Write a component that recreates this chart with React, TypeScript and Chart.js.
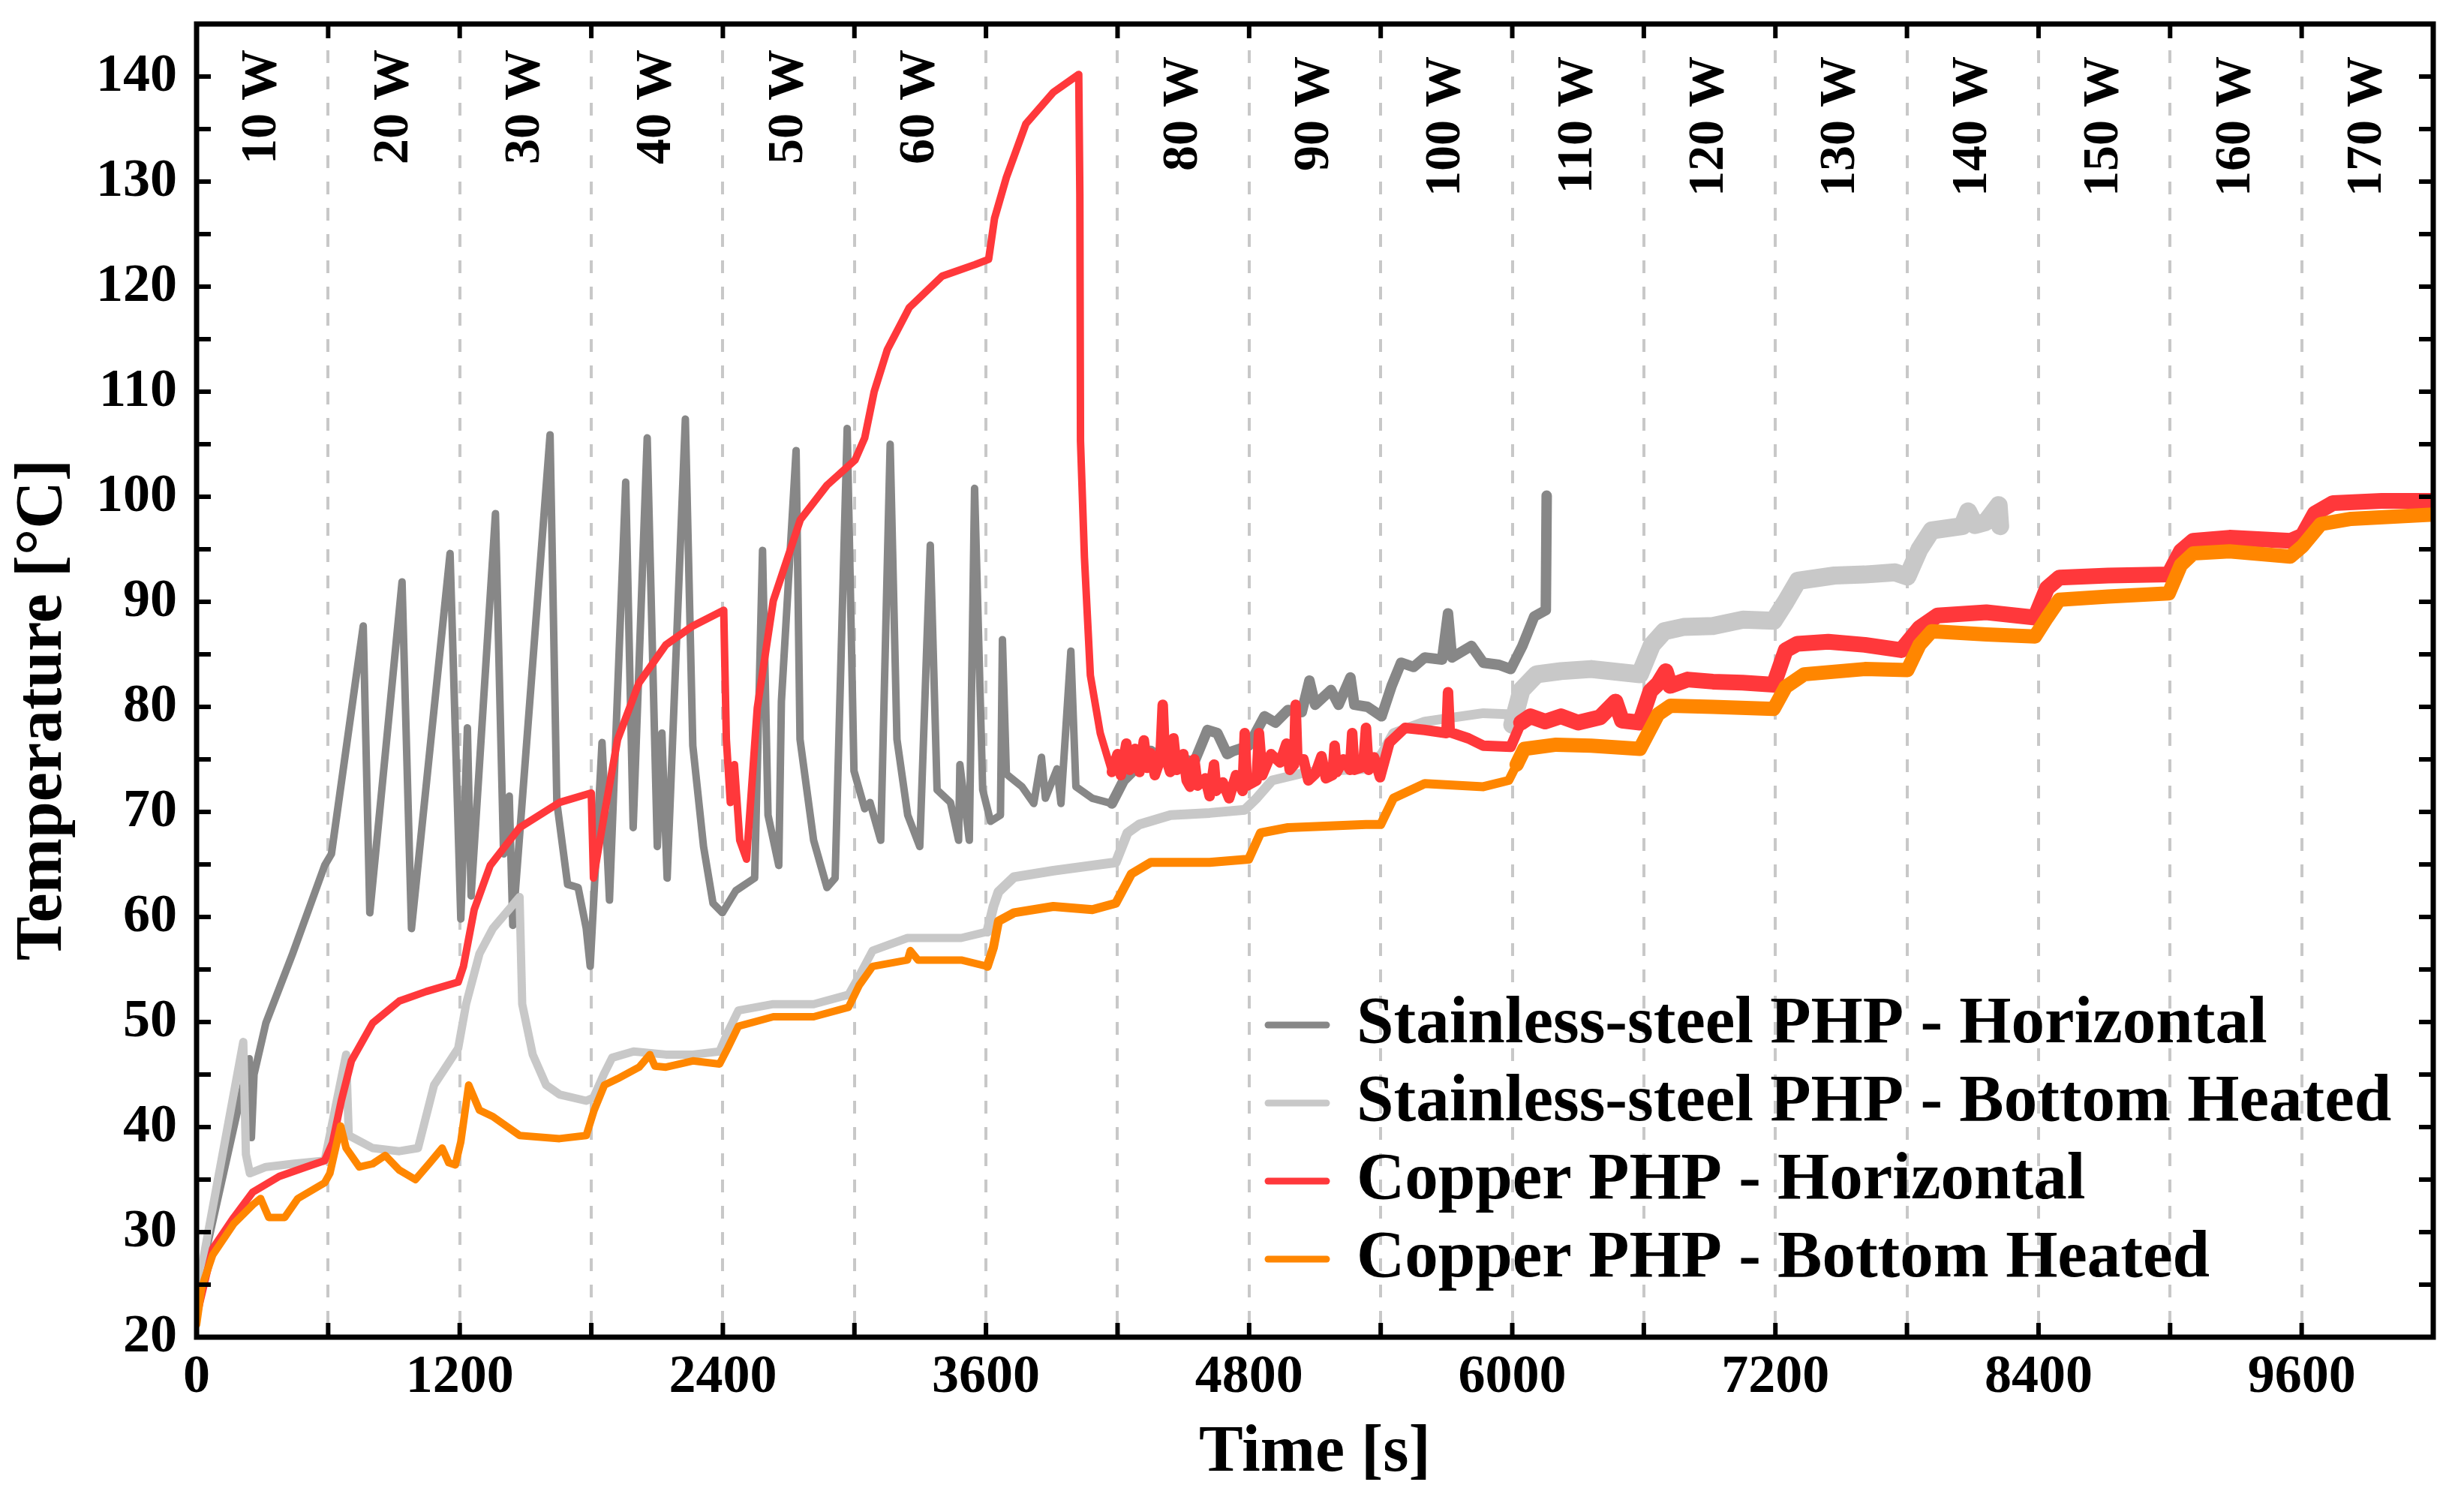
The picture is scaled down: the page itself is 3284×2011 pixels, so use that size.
import React, { useEffect, useRef } from "react";
import { Chart, registerables } from "chart.js";
import type { Plugin, ChartOptions } from "chart.js";

Chart.register(...registerables);

const FONT = "'Liberation Serif', 'Times New Roman', serif";

// [time s, temperature °C]
const ssHorizontal: [number, number][] = [
  [0, 24], [20, 26], [240, 46.5], [250, 39], [262, 45], [316, 49.9], [438, 56.5], [584, 64.9], [615, 66],
  [760, 87.7], [790, 60.4], [937, 91.9], [980, 58.9], [1156, 94.6], [1205, 59.8], [1235, 78], [1252, 62],
  [1363, 98.4], [1400, 66], [1426, 71.5], [1442, 59.2], [1612, 105.9], [1643, 70.9], [1692, 63.1], [1740, 62.8],
  [1777, 58.9], [1795, 55.3], [1849, 76.6], [1883, 61.6], [1957, 101.4], [1991, 68.5], [2055, 105.6], [2101, 66.7],
  [2122, 77.5], [2146, 63.7], [2229, 107.4], [2263, 76.3], [2312, 66.7], [2355, 61.3], [2398, 60.4], [2459, 62.5],
  [2545, 63.7], [2581, 94.9], [2606, 69.7], [2655, 64.9], [2667, 80.5], [2734, 104.4], [2752, 76.9], [2814, 67.3],
  [2875, 62.8], [2912, 63.7], [2967, 106.5], [2998, 73.9], [3047, 70.3], [3071, 70.9], [3120, 67.3], [3163, 105],
  [3194, 76.9], [3243, 69.7], [3298, 66.7], [3346, 95.4], [3377, 72.1], [3438, 70.9], [3475, 67.3], [3481, 74.5],
  [3524, 67.3], [3548, 100.8], [3585, 72.1], [3621, 69.1], [3666, 69.7], [3675, 86.4], [3693, 73.6], [3764, 72.4],
  [3818, 70.8], [3853, 75.2], [3871, 71.3], [3924, 74.1], [3942, 70.8], [3987, 85.3], [4010, 72.4], [4085, 71.3],
  [4174, 70.8], [4228, 73], [4300, 74.5], [4352, 75.8], [4420, 74.8], [4477, 75.2], [4549, 74.7], [4610, 77.8],
  [4655, 77.5], [4700, 75.5], [4727, 75.8], [4798, 76.3], [4870, 79.1], [4920, 78.5], [4977, 79.7], [5040, 79.5],
  [5075, 82.5], [5101, 80.2], [5173, 81.6], [5208, 80.2], [5262, 82.8], [5280, 80.2], [5340, 80], [5404, 79.1],
  [5450, 82], [5493, 84.2], [5550, 83.8], [5601, 84.7], [5680, 84.5], [5707, 88.9], [5725, 84.7], [5814, 85.8],
  [5868, 84.2], [5940, 84], [5993, 83.6], [6046, 85.8], [6100, 88.6], [6153, 89.2], [6157, 100.1],
];

const ssBottom: [number, number][] = [
  [0, 24], [213, 48.1], [225, 37.4], [243, 35.6], [316, 36.2], [438, 36.5], [584, 36.8], [682, 46.9], [694, 39.2],
  [803, 38], [925, 37.7], [1010, 38], [1083, 44], [1193, 47.5], [1229, 51.7], [1290, 56.5], [1351, 58.9],
  [1473, 61.9], [1485, 51.7], [1533, 46.9], [1594, 44], [1655, 43.1], [1777, 42.5], [1810, 42.8], [1859, 45.1],
  [1895, 46.6], [1993, 47.2], [2140, 46.9], [2263, 46.9], [2385, 47.2], [2422, 49], [2471, 51.1], [2630, 51.7],
  [2814, 51.7], [2973, 52.6], [3022, 54.4], [3083, 56.8], [3242, 58], [3487, 58], [3606, 58.6], [3634, 61],
  [3657, 62.4], [3728, 63.8], [3907, 64.4], [4085, 64.9], [4192, 65.2], [4245, 68], [4299, 68.8], [4442, 69.7],
  [4620, 69.9], [4780, 70.2], [4834, 71.3], [4905, 73], [5066, 73.8], [5333, 74.1], [5404, 75.5], [5458, 77.5],
  [5601, 78.6], [5868, 79.4], [5975, 79.3], [6000, 78.3], [6042, 81.6], [6111, 83.1], [6222, 83.4], [6360, 83.6],
  [6582, 83.1], [6637, 85.9], [6693, 87.2], [6780, 87.6], [6915, 87.7], [7053, 88.3], [7192, 88.2], [7247, 90],
  [7303, 92], [7469, 92.5], [7608, 92.6], [7746, 92.8], [7802, 92.4], [7857, 95], [7913, 96.8], [8052, 97.2],
  [8079, 98.6], [8110, 97.3], [8160, 97.6], [8218, 99.2], [8225, 97.2],
];

const cuHorizontal: [number, number][] = [
  [0, 22], [73, 28.4], [170, 31.4], [256, 33.8], [377, 35.3], [499, 36.2], [584, 36.8], [620, 38.5], [660, 42.5],
  [706, 46.3], [803, 49.9], [925, 52], [1047, 52.9], [1193, 53.8], [1217, 55.3], [1266, 60.7], [1339, 64.9],
  [1473, 68.5], [1655, 70.9], [1800, 71.8], [1810, 63.7], [1859, 69.7], [1920, 76.9], [2018, 82.3], [2140, 85.9],
  [2263, 87.7], [2404, 89.2], [2416, 76.9], [2434, 70.9], [2453, 74.5], [2477, 67.3], [2508, 65.5], [2557, 79.9],
  [2630, 90.1], [2753, 97.8], [2875, 101.1], [3003, 103.5], [3047, 105.6], [3090, 110], [3150, 114], [3250, 118],
  [3400, 121], [3550, 122.1], [3612, 122.6], [3639, 126.5], [3693, 130.4], [3782, 135.5], [3907, 138.5],
  [4023, 140.2], [4028, 128.8], [4031, 105.3], [4049, 94.2], [4076, 83], [4121, 77.5], [4174, 73.8], [4200, 75.5],
  [4215, 73.5], [4240, 76.5], [4255, 74], [4280, 76], [4300, 73.8], [4320, 76.8], [4335, 74.2], [4350, 75.6],
  [4370, 73.5], [4395, 75], [4406, 80.2], [4415, 75.5], [4440, 73.8], [4455, 77], [4470, 74], [4500, 75.5],
  [4515, 73], [4531, 72.4], [4550, 75], [4565, 72.5], [4600, 73.2], [4620, 71.5], [4640, 74.5], [4650, 72],
  [4680, 72.8], [4709, 71.3], [4740, 73.5], [4770, 72], [4780, 77.5], [4790, 72.5], [4834, 73], [4845, 77.5],
  [4860, 73.5], [4900, 75.5], [4941, 74.7], [4970, 76.5], [4985, 74], [5005, 74.5], [5012, 80.2], [5020, 75],
  [5048, 75], [5070, 73], [5101, 73.6], [5130, 75.3], [5150, 73.2], [5180, 73.5], [5190, 76.3], [5200, 73.8],
  [5230, 75], [5260, 74], [5270, 77.5], [5280, 74], [5320, 74.3], [5333, 78], [5345, 74], [5370, 75.2],
  [5397, 73.3], [5440, 76.6], [5511, 78], [5600, 77.8], [5700, 77.5], [5707, 81.4], [5715, 77.6], [5800, 77],
  [5868, 76.3], [5993, 76.2], [6040, 78.5], [6083, 79.1], [6150, 78.6], [6222, 79.1], [6300, 78.5], [6400, 79],
  [6471, 80.5], [6500, 78.7], [6582, 78.5], [6630, 81.5], [6665, 82.2], [6700, 83.4], [6720, 82], [6800, 82.6],
  [6915, 82.4], [7050, 82.3], [7192, 82.1], [7247, 85.4], [7300, 86], [7441, 86.2], [7608, 85.9], [7774, 85.4],
  [7857, 87.5], [7940, 88.7], [8162, 89], [8384, 88.5], [8439, 91.3], [8495, 92.3], [8717, 92.5], [8994, 92.6],
  [9049, 94.8], [9105, 95.8], [9271, 96.1], [9548, 95.8], [9604, 96.3], [9660, 98.4], [9743, 99.4], [9965, 99.6],
  [10200, 99.6],
];

const cuBottom: [number, number][] = [
  [0, 21.2], [24, 24.8], [73, 27.8], [170, 30.8], [256, 32.6], [292, 33.2], [329, 31.4], [402, 31.4], [462, 33.2],
  [584, 34.7], [608, 35.6], [657, 40.1], [682, 38], [742, 36.2], [803, 36.5], [860, 37.3], [925, 35.9], [998, 35],
  [1060, 36.5], [1120, 38], [1150, 36.6], [1180, 36.4], [1205, 38.6], [1241, 44], [1290, 41.6], [1351, 41],
  [1473, 39.2], [1655, 38.9], [1777, 39.2], [1813, 41.6], [1860, 44], [1920, 44.6], [2018, 45.7], [2067, 46.9],
  [2090, 45.8], [2140, 45.7], [2263, 46.3], [2385, 46], [2422, 47.5], [2471, 49.6], [2630, 50.5], [2814, 50.5],
  [2973, 51.4], [3022, 53.5], [3083, 55.3], [3242, 55.9], [3255, 56.8], [3290, 55.9], [3487, 55.9], [3606, 55.3],
  [3634, 57.1], [3657, 59.6], [3728, 60.4], [3907, 61], [4085, 60.7], [4192, 61.3], [4263, 64.1], [4352, 65.2],
  [4620, 65.2], [4798, 65.5], [4852, 68], [4977, 68.5], [5333, 68.8], [5400, 68.8], [5458, 71.3], [5601, 72.7],
  [5868, 72.4], [5984, 73], [6020, 74.5], [6055, 76], [6200, 76.4], [6360, 76.3], [6582, 76], [6665, 79.3],
  [6721, 80.1], [6915, 80], [7192, 79.8], [7247, 81.9], [7331, 83.1], [7608, 83.6], [7802, 83.5], [7857, 85.9],
  [7913, 87.2], [8162, 86.9], [8384, 86.7], [8439, 88.5], [8495, 90.2], [8717, 90.5], [8994, 90.8], [9049, 93.5],
  [9105, 94.6], [9271, 94.8], [9548, 94.3], [9604, 95.3], [9687, 97.4], [9826, 97.9], [10200, 98.3],
];

const seriesNames = [
  "Stainless-steel PHP - Horizontal",
  "Stainless-steel PHP - Bottom Heated",
  "Copper PHP - Horizontal",
  "Copper PHP - Bottom Heated",
];
const seriesColors = ["#878787", "#c8c8c8", "#ff383b", "#ff8600"];
const seriesData = [ssHorizontal, ssBottom, cuHorizontal, cuBottom];

// heater power steps and the middle of each 600 s step
const powerSteps = [10, 20, 30, 40, 50, 60, 80, 90, 100, 110, 120, 130, 140, 150, 160, 170];
const powerMidTimes = [300, 900, 1500, 2100, 2700, 3300, 4500, 5100, 5700, 6300, 6900, 7500, 8100, 8700, 9300, 9900];

// line gets thicker where the signal is noisy: [from time, width]
const bandWidths: [number, number][][] = [
  [[0, 10], [4100, 14]],
  [[0, 11], [3600, 13], [6000, 24]],
  [[0, 10], [4150, 14], [6000, 21]],
  [[0, 10], [3600, 12], [6000, 19]],
];

const widthAt = (s: number, t: number) => {
  let w = 10;
  for (const [from, bw] of bandWidths[s]) if (t >= from) w = bw;
  return w;
};

const framePlugin: Plugin<"line"> = {
  id: "frameAndLabels",
  afterDraw(chart) {
    const { ctx, chartArea: a } = chart;
    const xs = chart.scales.x;
    const ys = chart.scales.y;
    ctx.save();

    // inward ticks on all four sides
    ctx.strokeStyle = "#000";
    ctx.lineWidth = 6;
    const tl = 19;
    ctx.beginPath();
    xs.ticks.forEach((t) => {
      const px = xs.getPixelForValue(t.value);
      ctx.moveTo(px, a.bottom);
      ctx.lineTo(px, a.bottom - tl);
      ctx.moveTo(px, a.top);
      ctx.lineTo(px, a.top + tl);
    });
    ys.ticks.forEach((t) => {
      const py = ys.getPixelForValue(t.value);
      ctx.moveTo(a.left, py);
      ctx.lineTo(a.left + tl, py);
      ctx.moveTo(a.right, py);
      ctx.lineTo(a.right - tl, py);
    });
    ctx.stroke();

    // frame
    ctx.lineWidth = 7;
    ctx.strokeRect(a.left, a.top, a.right - a.left, a.bottom - a.top);

    // power labels
    ctx.fillStyle = "#000";
    ctx.font = `bold 68px ${FONT}`;
    ctx.textAlign = "right";
    ctx.textBaseline = "middle";
    powerSteps.forEach((p, i) => {
      const px = xs.getPixelForValue(powerMidTimes[i]);
      ctx.save();
      ctx.translate(px, a.top + (p <= 60 ? 34 : 43));
      ctx.rotate(-Math.PI / 2);
      ctx.fillText(`${p} W`, 0, 0);
      ctx.restore();
    });

    // y title
    ctx.font = `bold 88px ${FONT}`;
    ctx.textAlign = "center";
    ctx.save();
    ctx.translate(58, 946);
    ctx.rotate(-Math.PI / 2);
    ctx.fillText("Temperature [°C]", 0, 0);
    ctx.restore();

    // legend
    ctx.font = `bold 89px ${FONT}`;
    ctx.textAlign = "left";
    ctx.lineCap = "round";
    seriesNames.forEach((name, i) => {
      const ry = a.bottom - 416 + i * 104;
      ctx.strokeStyle = seriesColors[i];
      ctx.lineWidth = 9;
      ctx.beginPath();
      ctx.moveTo(1690, ry);
      ctx.lineTo(1768, ry);
      ctx.stroke();
      ctx.fillText(name, 1808, ry);
    });

    ctx.restore();
  },
};

const App: React.FC = () => {
  const canvasRef = useRef<HTMLCanvasElement | null>(null);
  const chartRef = useRef<Chart | null>(null);

  useEffect(() => {
    const canvas = canvasRef.current;
    if (!canvas) return;
    if (chartRef.current) {
      chartRef.current.destroy();
      chartRef.current = null;
    }

    const tickFont = { family: FONT, size: 72, weight: "bold" as const };

    const options: ChartOptions<"line"> = {
      responsive: false,
      animation: false,
      devicePixelRatio: 1,
      layout: { padding: { top: 32, right: 41, bottom: 21, left: 0 } },
      plugins: { legend: { display: false }, tooltip: { enabled: false } },
      elements: { point: { radius: 0 } },
      scales: {
        x: {
          type: "linear",
          min: 0,
          max: 10200,
          afterFit: (scale: any) => {
            scale.height = 208;
            scale.paddingLeft = 0;
            scale.paddingRight = 0;
          },
          ticks: {
            stepSize: 600,
            autoSkip: false,
            maxRotation: 0,
            padding: 11,
            color: "#000",
            font: tickFont,
            callback: (v) => (Number(v) % 1200 === 0 ? String(v) : ""),
          },
          grid: { color: "#c8c8c8", lineWidth: 4, drawTicks: false },
          border: { display: false, dash: [17, 18] },
          title: {
            display: true,
            text: "Time [s]",
            color: "#000",
            padding: 0,
            font: { family: FONT, size: 88, weight: "bold" },
          },
        },
        y: {
          type: "linear",
          min: 20,
          max: 145,
          afterFit: (scale: any) => {
            scale.width = 262;
            scale.paddingTop = 0;
            scale.paddingBottom = 0;
          },
          ticks: {
            stepSize: 5,
            autoSkip: false,
            padding: 26,
            color: "#000",
            font: tickFont,
            callback: (v) => (Number(v) % 10 === 0 && Number(v) <= 140 ? String(v) : ""),
          },
          grid: { display: false, drawTicks: false },
          border: { display: false },
        },
      },
    };

    chartRef.current = new Chart(canvas, {
      type: "line",
      data: {
        datasets: seriesData.map((pts, i) => ({
          label: seriesNames[i],
          data: pts.map(([t, T]) => ({ x: t, y: T })),
          borderColor: seriesColors[i],
          backgroundColor: seriesColors[i],
          borderWidth: 10,
          borderJoinStyle: "round" as const,
          borderCapStyle: "round" as const,
          tension: 0,
          pointRadius: 0,
          order: 3 - i,
          segment: {
            borderWidth: (ctx: any) => widthAt(i, ctx.p0.parsed.x),
          },
        })),
      },
      options,
      plugins: [framePlugin],
    });

    return () => {
      if (chartRef.current) {
        chartRef.current.destroy();
        chartRef.current = null;
      }
    };
  }, []);

  return (
    <div style={{ position: "absolute", left: 0, top: 0, width: 3284, height: 2011, background: "#fff" }}>
      <canvas ref={canvasRef} width={3284} height={2011} style={{ display: "block" }} />
    </div>
  );
};

export default App;
